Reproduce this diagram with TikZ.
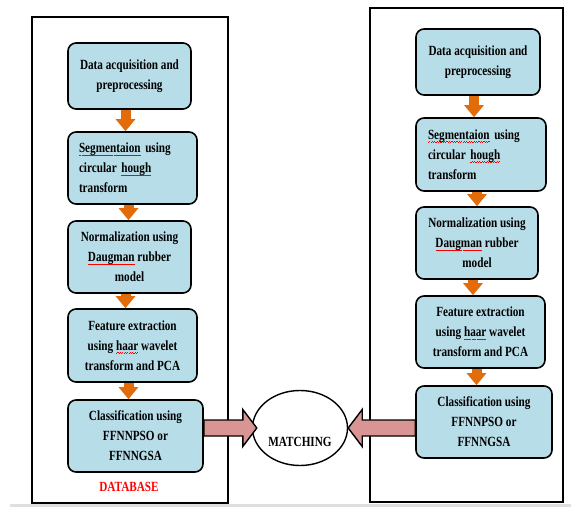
\documentclass[tikz,border=0pt]{standalone}
\usepackage{fontspec}
\setmainfont{Liberation Serif}[FakeStretch=0.8]
\usetikzlibrary{arrows.meta, calc, shapes.geometric}

\definecolor{boxblue}{HTML}{B7DDE8}
\definecolor{steporange}{HTML}{E36C0A}
\definecolor{matchpink}{HTML}{D99594}
\newsavebox{\squigbox}
\newcommand{\squig}[1]{\sbox{\squigbox}{#1}%
  \rlap{\color{red}\raisebox{-3pt}[0pt][0pt]{\hbox to \wd\squigbox{%
    \xleaders\hbox{\rule{1.2pt}{0.5pt}\raisebox{0.7pt}{\rule{1.2pt}{0.5pt}}}\hfill}}}#1}

\tikzset{
  stage/.style={draw, line width=1.6pt, rounded corners=8pt, fill=boxblue,
    font=\fontsize{14}{20}\selectfont\bfseries, inner sep=0pt,
    align=center, minimum height=72pt},
  flow/.style={draw=steporange, line width=10pt,
    -{Triangle[width=19pt, length=12pt]}},
  frame/.style={draw, line width=1.4pt},
  matcharrow/.style={draw, line width=1.4pt, fill=matchpink, line join=miter},
}

\begin{document}
\begin{tikzpicture}[x=1pt, y=-1pt]
  \useasboundingbox (0,0) rectangle (571,508);

  % outer frames
  \draw[frame] (32,17) rectangle (228,503);
  \draw[frame] (370,8) rectangle (563,502);
  \draw[gray!25, line width=2.5pt] (10,505.5) -- (571,505.5);

  % database side
  \node[stage, minimum width=123pt, minimum height=66pt] (L1) at (129.5,76)
    {Data acquisition and\\preprocessing};
  \node[stage, minimum width=129pt, align=left, text width=107pt] (L2) at (132.5,168)
    {\squig{Segmentaion} using\\circular \squig{hough}\\transform};
  \node[stage, minimum width=123pt] (L3) at (129.5,257)
    {Normalization using\\\squig{Daugman} rubber\\model};
  \node[stage, minimum width=129pt, minimum height=73pt] (L4) at (132.5,345.5)
    {Feature extraction\\using \squig{haar} wavelet\\transform and PCA};
  \node[stage, minimum width=135pt] (L5) at (135.5,436)
    {Classification using\\FFNNPSO or\\FFNNGSA};
  \node[font=\fontsize{14}{20}\selectfont\bfseries, text=red] (db) at (129,487) {DATABASE};

  % test side
  \node[stage, minimum width=124pt, minimum height=66pt] (R1) at (478,62)
    {Data acquisition and\\preprocessing};
  \node[stage, minimum width=130pt, minimum height=73pt, align=left, text width=106pt] (R2) at (481,154.5)
    {\squig{Segmentaion} using\\circular \squig{hough}\\transform};
  \node[stage, minimum width=122pt] (R3) at (477,243)
    {Normalization using\\\squig{Daugman} rubber\\model};
  \node[stage, minimum width=129pt] (R4) at (480.5,332)
    {Feature extraction\\using \squig{haar} wavelet\\transform and PCA};
  \node[stage, minimum width=136pt] (R5) at (484,422)
    {Classification using\\FFNNPSO or\\FFNNGSA};

  \foreach \a/\b in {L1/L2, L2/L3, L3/L4, L4/L5, R1/R2, R2/R3, R3/R4, R4/R5}
    \draw[flow] ([xshift=-4pt]\a.south) -- ([xshift=-4pt]\a.south |- \b.north);

  % matching
  \node[draw, ellipse, line width=1.4pt, fill=white, minimum width=95pt,
    minimum height=75pt, inner sep=0pt, text height=37pt, text depth=0pt,
    font=\fontsize{14}{20}\selectfont\bfseries] (M) at (300,428) {MATCHING};

  \coordinate (la) at (L5.east |- M.west);
  \coordinate (ra) at (R5.west |- M.east);
  \draw[matcharrow] ($(la)+(0,-8)$) -- ($(M.west)+(-9,-8)$) -- ($(M.west)+(-9,-18.5)$)
    -- ($(M.west)+(5,0)$) -- ($(M.west)+(-9,18.5)$) -- ($(M.west)+(-9,8)$)
    -- ($(la)+(0,8)$) -- cycle;
  \draw[matcharrow] ($(ra)+(0,-8)$) -- ($(M.east)+(14,-8)$) -- ($(M.east)+(14,-18.5)$)
    -- (M.east) -- ($(M.east)+(14,18.5)$) -- ($(M.east)+(14,8)$)
    -- ($(ra)+(0,8)$) -- cycle;
\end{tikzpicture}
\end{document}
